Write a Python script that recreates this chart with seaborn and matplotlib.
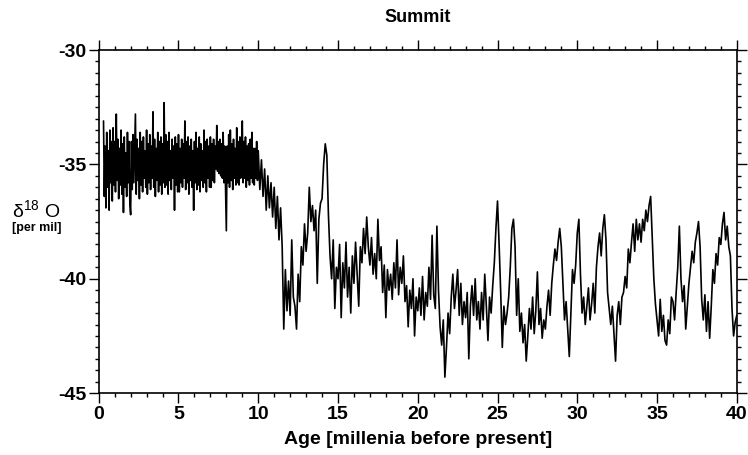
import numpy as np
import pandas as pd
import matplotlib
matplotlib.use("Agg")
import matplotlib.pyplot as plt
from matplotlib.ticker import MultipleLocator
import seaborn as sns

# Summit ice core, delta 18O [per mil]
# Holocene: every 0.05 ka from 0.30 ka to 9.95 ka
d18o_holocene = [
	-33.1, -36.4, -34.2, -36.9, -33.6, -36.0, -34.4, -37.0, -33.5, -35.8, -34.0, -36.6, -33.4, -35.9,  # 0.3
	-34.0, -36.2, -32.8, -35.7, -33.9, -36.5, -34.3, -35.9, -33.5, -36.3, -34.1, -37.1, -33.8, -36.0, -34.5, -36.4, -33.6, -35.8, -34.0, -36.7,  # 1
	-37.2, -34.0, -36.1, -33.7, -35.8, -34.2, -32.8, -36.3, -33.9, -35.7, -34.3, -36.5, -33.6, -35.9, -34.0, -36.2, -33.8, -35.6, -34.4, -36.0,  # 2
	-33.5, -36.3, -34.1, -35.8, -33.7, -36.1, -34.2, -35.6, -32.7, -36.0, -33.9, -36.4, -34.3, -35.7, -33.6, -36.2, -34.0, -35.9, -33.8, -36.3,  # 3
	-34.1, -35.8, -32.3, -36.0, -33.7, -35.9, -34.0, -36.3, -33.6, -35.7, -34.4, -36.1, -33.9, -35.6, -34.2, -37.0, -33.8, -35.9, -34.1, -36.2,  # 4
	-33.7, -36.2, -34.3, -35.8, -33.9, -36.0, -34.1, -35.6, -33.1, -36.1, -34.0, -35.8, -33.8, -36.3, -34.2, -35.7, -33.9, -36.0, -34.4, -37.0,  # 5
	-34.0, -35.8, -33.6, -36.1, -34.3, -35.9, -33.8, -36.2, -34.1, -35.7, -34.4, -36.0, -33.5, -35.8, -34.0, -36.2, -33.9, -35.6, -34.2, -36.0,  # 6
	-33.8, -36.0, -34.1, -35.7, -33.9, -35.8, -34.2, -35.2, -33.3, -35.3, -34.0, -35.4, -33.9, -35.5, -34.1, -35.6, -33.6, -35.8, -34.2, -36.0,  # 7
	-37.9, -34.2, -35.8, -33.7, -36.0, -33.5, -35.7, -34.1, -36.1, -33.9, -35.6, -34.3, -35.9, -33.4, -35.8, -34.0, -35.9, -33.8, -35.6, -34.2,  # 8
	-33.1, -35.8, -34.0, -35.6, -33.8, -36.0, -34.2, -35.7, -34.1, -35.9, -33.9, -35.6, -33.6, -35.8, -34.3, -35.9, -34.3, -35.6, -34.0, -35.7,  # 9
]
# deglacial and glacial: every 0.1 ka from 10.0 ka to 40.0 ka
d18o_deglacial = [
	-34.4, -36.1, -34.8, -36.4, -35.2, -37.0, -35.5, -36.9, -35.8, -37.3,  # 10
	-36.0, -37.8, -36.4, -38.3, -36.9, -38.6, -42.2, -39.6, -41.4, -40.1,  # 11
	-41.6, -38.3, -40.8, -41.2, -42.2, -39.8, -41.0, -38.6, -39.4, -37.6,  # 12
	-38.8, -38.0, -36.0, -37.5, -36.8, -37.9, -37.0, -40.2, -37.4, -36.7,  # 13
	-36.5, -35.0, -34.1, -34.6, -37.2, -39.0, -40.0, -38.3, -41.3, -39.5,  # 14
	-40.0, -38.5, -41.7, -39.3, -40.4, -38.4, -40.8, -39.5, -41.5, -39.0,  # 15
	-40.2, -38.4, -39.8, -41.2, -38.6, -39.3, -37.8, -38.9, -37.3, -38.6,  # 16
	-39.4, -38.2, -39.8, -38.9, -40.0, -37.4, -39.2, -38.6, -40.6, -39.4,  # 17
	-41.7, -39.6, -40.5, -39.8, -40.9, -39.3, -40.4, -38.3, -40.7, -39.5,  # 18
	-40.2, -39.0, -41.0, -40.3, -42.1, -40.5, -41.3, -40.0, -42.5, -40.8,  # 19
]
d18o_glacial = [
	-41.4, -40.4, -41.6, -39.9, -41.8, -40.6, -41.2, -39.5, -40.9, -38.1,  # 20
	-40.7, -41.3, -37.7, -40.5, -42.1, -42.9, -41.8, -44.3, -43.0, -41.5,  # 21
	-42.4, -40.8, -39.8, -41.3, -40.5, -39.6, -41.6, -40.2, -42.0, -41.0,  # 22
	-41.7, -40.6, -43.5, -41.2, -40.3, -41.6, -40.0, -41.8, -41.0, -42.2,  # 23
	-40.6, -41.8, -39.8, -41.2, -42.7, -40.8, -41.5, -40.3, -39.3, -37.8,  # 24
	-36.6, -38.5, -40.6, -43.0, -41.2, -42.0, -41.5, -40.8, -39.5, -37.8,  # 25
	-37.4, -38.6, -41.6, -40.0, -42.3, -41.5, -42.8, -42.0, -43.6, -42.5,  # 26
	-41.3, -42.2, -40.8, -42.4, -41.4, -39.7, -42.0, -41.3, -42.6, -41.8,  # 27
	-42.2, -41.2, -40.5, -41.6, -40.2, -39.4, -38.7, -39.2, -38.4, -37.8,  # 28
	-38.6, -40.2, -41.8, -41.0, -42.2, -43.4, -41.5, -39.6, -40.2, -39.4,  # 29
	-38.0, -37.4, -39.8, -41.5, -40.8, -42.0, -41.2, -40.4, -41.8, -41.1,  # 30
	-40.2, -41.5, -39.5, -38.6, -38.0, -39.0, -37.8, -37.2, -38.3, -40.6,  # 31
	-41.3, -42.0, -41.2, -42.4, -43.6, -41.6, -41.0, -42.0, -40.8, -40.6,  # 32
	-39.9, -40.4, -38.7, -39.3, -38.4, -37.6, -38.8, -37.4, -38.3, -37.6,  # 33
	-38.4, -37.4, -37.9, -37.0, -37.5, -36.8, -36.4, -38.2, -40.0, -41.1,  # 34
	-41.8, -42.5, -40.9, -42.3, -41.6, -42.7, -42.9, -41.8, -42.4, -40.8,  # 35
	-41.0, -41.8, -40.6, -39.5, -37.7, -40.0, -41.0, -40.3, -42.2, -41.2,  # 36
	-40.2, -39.5, -38.8, -39.3, -38.4, -38.0, -37.5, -38.6, -40.9, -41.8,  # 37
	-40.7, -42.3, -41.0, -42.6, -41.2, -39.6, -40.2, -38.9, -39.4, -38.2,  # 38
	-38.5, -37.6, -37.1, -38.3, -37.7, -38.6, -39.0, -41.3, -42.5, -41.9,  # 39
	-41.6,                                                                 # 40
]

x_ticks = [0, 5, 10, 15, 20, 25, 30, 35, 40]
y_ticks = [-30, -35, -40, -45]

d18o_late = d18o_deglacial + d18o_glacial
age_holocene = np.round(0.3 + 0.05 * np.arange(len(d18o_holocene)), 2)
age_late = np.round(10.0 + 0.1 * np.arange(len(d18o_late)), 2)
df = pd.DataFrame({
	"age": np.concatenate([age_holocene, age_late]),
	"d18o": d18o_holocene + d18o_late,
})

sns.set_style("ticks")
plt.rcParams["font.family"] = ["Liberation Sans", "DejaVu Sans"]
plt.rcParams["text.color"] = "black"
plt.rcParams["xtick.color"] = "black"
plt.rcParams["ytick.color"] = "black"
plt.rcParams["axes.labelcolor"] = "black"

fig = plt.figure(figsize=(7.48, 4.55), dpi=100)
ax = fig.add_axes([0.132, 0.136, 0.853, 0.754])

sns.lineplot(data=df, x="age", y="d18o", color="black", linewidth=1.2, ax=ax, legend=False)

ax.set_xlim(0, 40)
ax.set_ylim(-45, -30)
ax.set_xticks(x_ticks)
ax.set_yticks(y_ticks)
ax.set_xticklabels([str(t) for t in x_ticks])
ax.set_yticklabels([str(t) for t in y_ticks])
ax.xaxis.set_minor_locator(MultipleLocator(1))
ax.yaxis.set_minor_locator(MultipleLocator(0.5))
ax.tick_params(which="both", direction="out", top=True, right=True, color="black", width=1.0)
ax.tick_params(which="major", length=7, labelsize=14, pad=2)
ax.tick_params(which="minor", length=3)
for lab in ax.get_xticklabels() + ax.get_yticklabels():
	lab.set_fontweight("bold")
for s in ax.spines.values():
	s.set_visible(True)
	s.set_color("black")
	s.set_linewidth(1.2)

ax.set_xlabel("Age [millenia before present]", fontsize=14, fontweight="bold", labelpad=6)
ax.set_ylabel("")
ax.set_title("Summit", fontsize=13, fontweight="bold", pad=20)

fig.text(0.016, 0.538, "δ$\\mathregular{^{18}}$ O", fontsize=14, ha="left", va="center")
fig.text(0.016, 0.500, "[per mil]", fontsize=9, fontweight="bold", ha="left", va="center")

fig.savefig("out.png", dpi=100, facecolor="white")
